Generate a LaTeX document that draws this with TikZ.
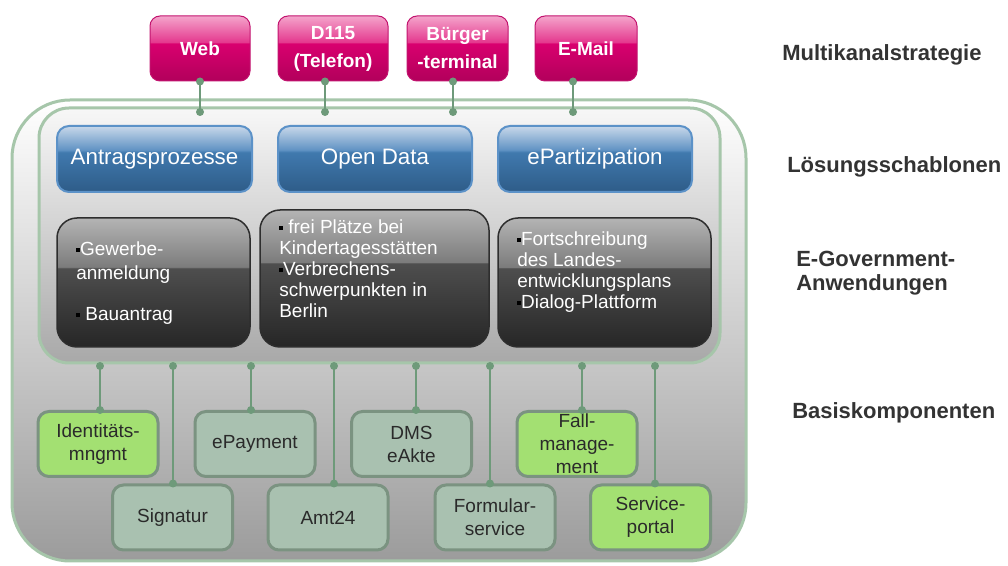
\documentclass[tikz,border=0pt]{standalone}
\usepackage{fontspec}
\setmainfont{Liberation Sans}
\usetikzlibrary{calc}

\newdimen\pxu \pxu=0.75pt

% palette
\definecolor{linkgreen}{HTML}{6E9A7A}
\definecolor{frameGreen}{HTML}{A6C6AA}
\definecolor{compGray}{HTML}{A9C1B0}
\definecolor{compGreen}{HTML}{A3E072}
\definecolor{compBorder}{HTML}{7B9381}
\definecolor{labelText}{HTML}{333333}
\definecolor{compText}{HTML}{2A2A2A}
\definecolor{pinkTop}{HTML}{F4A4CB}
\definecolor{pinkMidA}{HTML}{E4378D}
\definecolor{pinkMidB}{HTML}{D9006F}
\definecolor{pinkBot}{HTML}{B2005B}
\definecolor{pinkEdge}{HTML}{C2146F}
\definecolor{blueTop}{HTML}{C8D8EA}
\definecolor{blueMidA}{HTML}{6193C4}
\definecolor{blueMidB}{HTML}{4079AE}
\definecolor{blueBot}{HTML}{2E5C88}
\definecolor{blueEdge}{HTML}{5C92C8}
\definecolor{darkTop}{HTML}{B4B4B4}
\definecolor{darkMidA}{HTML}{7C7C7C}
\definecolor{darkMidB}{HTML}{4E4E4E}
\definecolor{darkBot}{HTML}{262626}
\definecolor{darkEdge}{HTML}{2E2E2E}

% glossy fills (25bp = bottom, 75bp = top of the box)
\pgfdeclareverticalshading{pinkgloss}{100bp}{color(0bp)=(pinkBot); color(25bp)=(pinkBot); color(54bp)=(pinkMidB); color(54.6bp)=(pinkMidA); color(75bp)=(pinkTop); color(100bp)=(pinkTop)}
\pgfdeclareverticalshading{bluegloss}{100bp}{color(0bp)=(blueBot); color(25bp)=(blueBot); color(55bp)=(blueMidB); color(57bp)=(blueMidA); color(75bp)=(blueTop); color(100bp)=(blueTop)}
\pgfdeclareverticalshading{darkgloss}{100bp}{color(0bp)=(darkBot); color(25bp)=(darkBot); color(55.5bp)=(darkMidB); color(56bp)=(darkMidA); color(75bp)=(darkTop); color(100bp)=(darkTop)}

\newcommand{\blt}{\textcolor{black}{\raisebox{0.22em}{\rule{0.2em}{0.2em}}}}
\newcommand{\linkdots}[2]{%
  \draw[link] (#1) -- (#2);
  \fill[linkgreen] (#1) circle[radius=4];
  \fill[linkgreen] (#2) circle[radius=4];}

\tikzset{
  link/.style={draw=linkgreen, line width=2.6\pxu},
  channel/.style={rounded corners=10\pxu, shade, shading=pinkgloss, draw=pinkEdge,
    line width=1\pxu, minimum height=65\pxu, inner sep=0pt, text=white, align=center,
    font=\fontsize{14.25}{21}\selectfont\bfseries},
  template/.style={rounded corners=12\pxu, shade, shading=bluegloss, draw=blueEdge,
    line width=2\pxu, minimum width=194\pxu, minimum height=66\pxu, inner sep=0pt,
    text=white, font=\fontsize{16.75}{19}\selectfont},
  app/.style={rounded corners=20\pxu, shade, shading=darkgloss, draw=darkEdge,
    line width=1.5\pxu, inner sep=0pt},
  % anchored at the baseline of the last line
  apptext/.style={anchor=base west, inner sep=0pt, align=left, text=white,
    font=\fontsize{14.25}{15.75}\selectfont},
  comp/.style={rounded corners=11\pxu, draw=compBorder, line width=3\pxu,
    minimum width=120\pxu, minimum height=65\pxu, inner sep=0pt, align=center,
    text=compText, font=\fontsize{14.25}{17.25}\selectfont},
  compg/.style={comp, fill=compGray},
  compl/.style={comp, fill=compGreen},
  layer/.style={anchor=west, inner sep=0pt, align=left, text=labelText,
    font=\fontsize{16.5}{18}\selectfont\bfseries}
}

\begin{document}
\begin{tikzpicture}[x=0.75pt, y=-0.75pt]
\useasboundingbox (0,0) rectangle (1008,566);

% outer and inner frames
\node[draw=frameGreen, line width=3\pxu, rounded corners=58\pxu,
  top color=white, middle color=black!13, bottom color=black!39,
  minimum width=734\pxu, minimum height=461\pxu, inner sep=0pt] (outer) at (379,330.5) {};
\node[draw=frameGreen, line width=3\pxu, rounded corners=30\pxu,
  top color=black!3, middle color=black!14, bottom color=black!34,
  minimum width=681\pxu, minimum height=255\pxu, inner sep=0pt] (inner) at (379.5,235.5) {};

% channels
\node[channel, minimum width=100\pxu] (web) at (200,48.5) {Web};
\node[channel, minimum width=110\pxu] (d115) at (333,48.5) {D115\\(Telefon)};
\node[channel, minimum width=101\pxu] (kiosk) at (457.5,48.5) {Bürger\\-terminal};
\node[channel, minimum width=102\pxu] (mail) at (586,48.5) {E-Mail};

% solution templates
\node[template, minimum width=195\pxu] (antrag) at (154.5,159) {Antragsprozesse};
\node[template] (opendata) at (375,159) {Open Data};
\node[template] (epart) at (595,159) {ePartizipation};

% applications
\node[app, minimum width=193\pxu, minimum height=129\pxu] (app1) at (153.5,282.5) {};
\node[app, minimum width=229\pxu, minimum height=137\pxu] (app2) at (374.5,278.5) {};
\node[app, minimum width=213\pxu, minimum height=129\pxu] (app3) at (604.5,282.5) {};

\node[apptext] (app1t) at (76,321) {\blt Gewerbe-\\[2.25pt]anmeldung\\[15pt]\blt\ Bauantrag};
\node[apptext] (app2t) at (279,318) {\blt\ frei Plätze bei\\Kindertagesstätten\\\blt Verbrechens-\\schwerpunkten in\\Berlin};
\node[apptext] (app3t) at (517,309) {\blt Fortschreibung\\des Landes-\\entwicklungsplans\\\blt Dialog-Plattform};

% base components
\node[compl] (ident) at (98,444) {Identitäts-\\mngmt};
\node[compg] (epay) at (255,444) {ePayment};
\node[compg] (dms) at (411.5,444) {DMS\\eAkte};
\node[compl] (fall) at (577,444) {Fall-\\manage-\\ment};
\node[compg] (sig) at (172.5,517.5) {Signatur};
\node[compg] (amt) at (328,517.5) {Amt24};
\node[compg] (form) at (495,517.5) {Formular-\\service};
\node[compl] (portal) at (650.5,517.5) {Service-\\portal};

% connection points on the inner frame
\coordinate (t1) at (200,112);
\coordinate (t2) at (325,112);
\coordinate (t3) at (453,112);
\coordinate (t4) at (573,112);
\coordinate (b1) at (100,366);
\coordinate (b2) at (173,366);
\coordinate (b3) at (251,366);
\coordinate (b4) at (334,366);
\coordinate (b5) at (416,366);
\coordinate (b6) at (490,366);
\coordinate (b7) at (582,366);
\coordinate (b8) at (655,366);

\linkdots{web.south -| t1}{t1}
\linkdots{d115.south -| t2}{t2}
\linkdots{kiosk.south -| t3}{t3}
\linkdots{mail.south -| t4}{t4}

\linkdots{b1}{ident.north -| b1}
\linkdots{b2}{sig.north -| b2}
\linkdots{b3}{epay.north -| b3}
\linkdots{b4}{amt.north -| b4}
\linkdots{b5}{dms.north -| b5}
\linkdots{b6}{form.north -| b6}
\linkdots{b7}{fall.north -| b7}
\linkdots{b8}{portal.north -| b8}

% layer captions
\node[layer] (lmulti) at (782,55) {Multikanalstrategie};
\node[layer] (lloes) at (787,167) {Lösungsschablonen};
\node[layer] (legov) at (796,273) {E-Government-\\Anwendungen};
\node[layer] (lbasis) at (792,413) {Basiskomponenten};
\end{tikzpicture}
\end{document}
